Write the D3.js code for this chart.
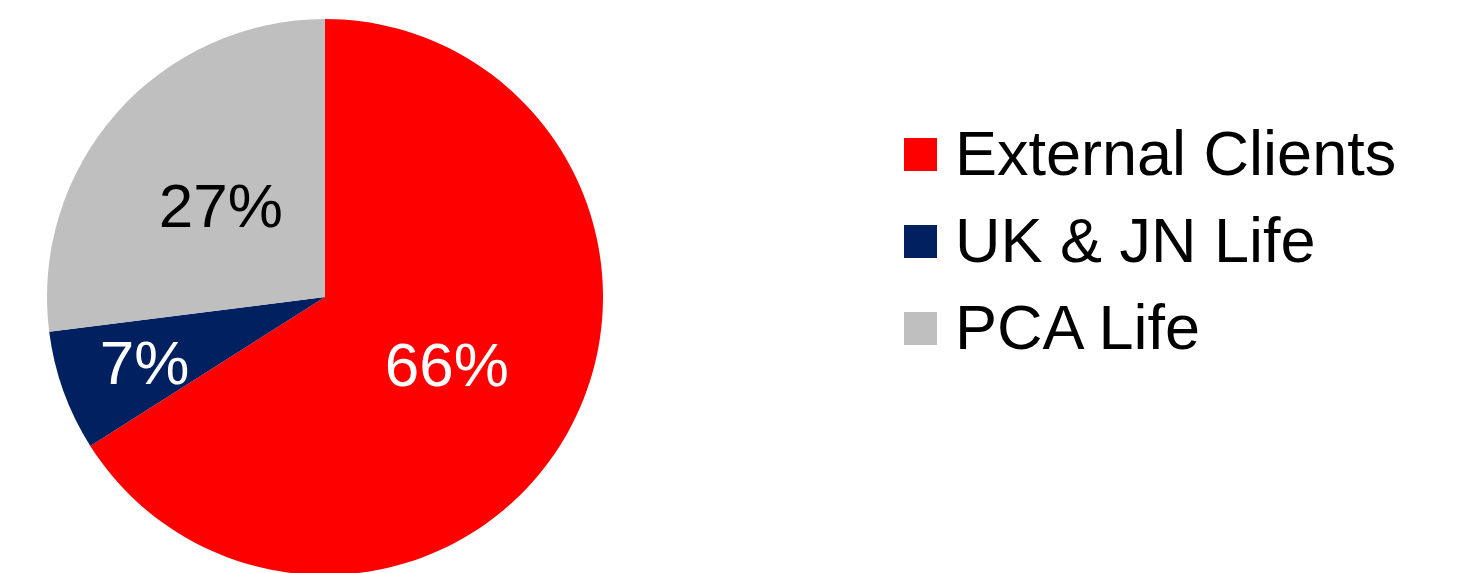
<!DOCTYPE html>
<html lang="en">
<head>
<meta charset="UTF-8">
<title>Pie</title>
<script src="https://d3js.org/d3.v7.min.js"></script>
<style>
  body { margin: 0; background: #fff; }
  svg { display: block; font-family: "Liberation Sans", Arial, sans-serif; }
</style>
</head>
<body>
<svg width="1461" height="573"></svg>
<script>

const categories = ['External Clients', 'UK & JN Life', 'PCA Life'];
const shares = [66, 7, 27];
const labels = ['66%', '7%', '27%'];
const colors = ['#ff0000', '#002060', '#bfbfbf'];
const labelColors = ['#ffffff', '#ffffff', '#000000'];

const data = categories.map((c, i) => ({ name: c, value: shares[i], label: labels[i] }));

const svg = d3.select('svg');
const cx = 325, cy = 297, radius = 278;

const pie = d3.pie().value(d => d.value).sort(null);
const arcs = pie(data);

const arc = d3.arc().innerRadius(0).outerRadius(radius);

const g = svg.append('g').attr('transform', `translate(${cx},${cy})`);

g.selectAll('path.slice')
    .data(arcs)
    .enter()
    .append('path')
    .attr('class', 'slice')
    .attr('d', arc)
    .style('fill', (d, i) => colors[i]);

// small slices get their label pushed outward, like Excel's best fit
g.selectAll('text.pct')
    .data(arcs)
    .enter()
    .append('text')
    .attr('class', 'pct')
    .attr('transform', d => {
        const r = (d.endAngle - d.startAngle) < 0.6 ? radius * 0.69 : radius * 0.5;
        const c = d3.arc().innerRadius(r).outerRadius(r).centroid(d);
        return `translate(${c[0]},${c[1] + 22})`;
    })
    .attr('text-anchor', 'middle')
    .style('font-size', '62px')
    .style('fill', (d, i) => labelColors[i])
    .text(d => d.data.label);

// legend
const legendY = d3.scalePoint().domain(categories).range([154.5, 328.5]);

const legend = svg.append('g')
    .selectAll('g.item')
    .data(categories)
    .enter()
    .append('g')
    .attr('class', 'item')
    .attr('transform', d => `translate(904,${legendY(d)})`);

legend.append('rect')
    .attr('x', 0)
    .attr('y', -16.5)
    .attr('width', 33)
    .attr('height', 33)
    .style('fill', (d, i) => colors[i]);

legend.append('text')
    .attr('x', 51)
    .attr('y', 20)
    .style('font-size', '63px')
    .style('fill', '#000')
    .text(d => d);

</script>
</body>
</html>
